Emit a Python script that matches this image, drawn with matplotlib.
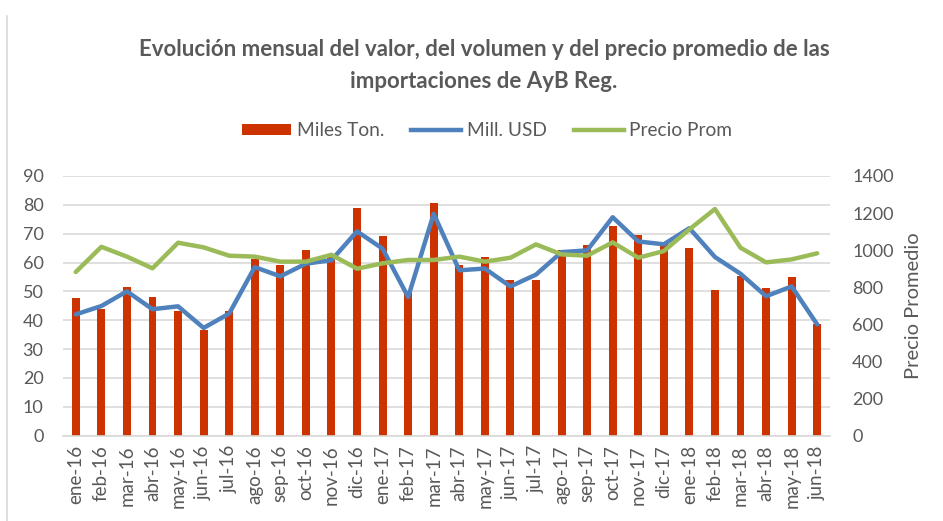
import matplotlib
matplotlib.use("Agg")
import matplotlib.pyplot as plt
from matplotlib.lines import Line2D
from matplotlib.patches import Patch

months = ["ene-16", "feb-16", "mar-16", "abr-16", "may-16", "jun-16", "jul-16", "ago-16",
          "sep-16", "oct-16", "nov-16", "dic-16", "ene-17", "feb-17", "mar-17", "abr-17",
          "may-17", "jun-17", "jul-17", "ago-17", "sep-17", "oct-17", "nov-17", "dic-17",
          "ene-18", "feb-18", "mar-18", "abr-18", "may-18", "jun-18"]

miles_ton = [47.7, 44.0, 51.6, 48.0, 43.2, 36.5, 43.2, 61.1, 59.1, 64.2,
             62.0, 78.8, 69.3, 49.8, 80.7, 59.0, 61.8, 54.0, 54.0, 64.5,
             66.1, 72.5, 69.7, 66.5, 65.0, 50.3, 55.2, 51.1, 55.1, 38.8]

mill_usd = [42.0, 44.9, 50.0, 43.8, 44.8, 37.3, 42.3, 58.4, 55.2, 59.6,
            60.8, 70.8, 64.8, 48.0, 76.9, 57.3, 57.9, 51.7, 55.8, 63.6,
            64.2, 75.7, 67.3, 66.3, 71.9, 61.9, 56.1, 48.3, 51.7, 38.5]

precio_prom = [882, 1018, 965, 902, 1040, 1015, 970, 965, 938, 938,
               975, 900, 929, 947, 947, 965, 938, 959, 1031, 977,
               970, 1042, 959, 995, 1112, 1222, 1013, 934, 950, 983]

left_ticks = list(range(0, 91, 10))
right_ticks = list(range(0, 1401, 200))

TXT = "#595959"
RED = "#CC3300"
BLUE = "#4F81BD"
GREEN = "#9BBB59"
GRID = "#D9D9D9"
FONT = "Lato"

plt.rcParams['font.family'] = [FONT, 'DejaVu Sans']

fig = plt.figure(figsize=(9.43, 5.21), dpi=100)
ax = fig.add_axes([63 / 943, 1 - 435.5 / 521, (830 - 63) / 943, (435.5 - 176) / 521])
ax2 = ax.twinx()

x = list(range(len(months)))
ax.bar(x, miles_ton, width=0.31, color=RED, zorder=2)
ax.plot(x, mill_usd, color=BLUE, lw=3.2, zorder=3, solid_capstyle='round', solid_joinstyle='round')
ax2.plot(x, precio_prom, color=GREEN, lw=3.2, zorder=3, solid_capstyle='round', solid_joinstyle='round')

ax.set_xlim(-0.5, len(months) - 0.5)
ax.set_ylim(0, 90)
ax.set_yticks(left_ticks)
ax2.set_ylim(0, 1400)
ax2.set_yticks(right_ticks)

ax.grid(axis='y', color=GRID, lw=1.2, zorder=0)
ax.set_axisbelow(True)
for a in (ax, ax2):
    for s in a.spines.values():
        s.set_visible(False)
ax.spines['bottom'].set_visible(True)
ax.spines['bottom'].set_color(GRID)
ax.spines['bottom'].set_linewidth(1.2)

ax.set_xticks(x)
ax.set_xticklabels(months, rotation=90, fontsize=13.5, color=TXT)
ax.tick_params(axis='x', length=0, pad=7)
ax.tick_params(axis='y', length=0, pad=14, labelsize=13, labelcolor=TXT)
ax2.tick_params(axis='y', length=0, pad=16, labelsize=13, labelcolor=TXT)
ax2.set_ylabel("Precio Promedio", fontsize=14.5, color=TXT, labelpad=8)

fig.text(484 / 943, 1 - 49 / 521, "Evolución mensual del valor, del volumen y del precio promedio de las",
         ha='center', va='center', fontsize=16, fontweight='bold', color=TXT)
fig.text(484 / 943, 1 - 82 / 521, "importaciones de AyB Reg.",
         ha='center', va='center', fontsize=16, fontweight='bold', color=TXT)

handles = [Patch(facecolor=RED, edgecolor='none'),
           Line2D([], [], color=BLUE, lw=3.2),
           Line2D([], [], color=GREEN, lw=3.2)]
fig.legend(handles, ["Miles Ton.", "Mill. USD", "Precio Prom"], loc='center',
           bbox_to_anchor=(487 / 943, 1 - 131 / 521), ncol=3, frameon=False,
           fontsize=13.8, labelcolor=TXT, handlelength=2.6, handleheight=0.5,
           handletextpad=0.3, columnspacing=1.4)

fig.add_artist(Line2D([7 / 943, 7 / 943], [0, 1 - 16 / 521], transform=fig.transFigure,
                      color=GRID, lw=1.2))

fig.savefig("out.png", dpi=100)
